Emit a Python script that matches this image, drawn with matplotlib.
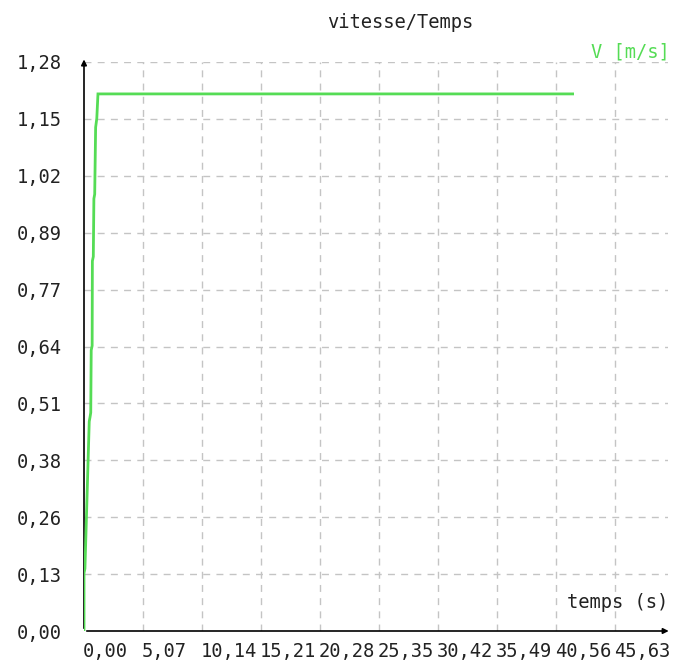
import matplotlib
matplotlib.use("Agg")
import matplotlib.pyplot as plt
from matplotlib.transforms import ScaledTranslation

# Data
time_s = [0.0, 0.0, 0.08, 0.45, 0.52, 0.58, 0.62, 0.70, 0.72, 0.80, 0.85, 0.92, 1.00, 1.05, 1.10, 1.20, 42.0]
speed_ms = [0.0, 0.13, 0.14, 0.47, 0.48, 0.49, 0.63, 0.64, 0.83, 0.84, 0.97, 0.98, 1.13, 1.14, 1.15, 1.205, 1.205]

x_ticks = [0.0, 5.07, 10.14, 15.21, 20.28, 25.35, 30.42, 35.49, 40.56, 45.63]
x_tick_labels = ["0,00", "5,07", "10,14", "15,21", "20,28", "25,35", "30,42", "35,49", "40,56", "45,63"]
y_ticks = [0.0, 0.1277, 0.2553, 0.383, 0.5106, 0.6383, 0.766, 0.8936, 1.0213, 1.149, 1.2766]
y_tick_labels = ["0,00", "0,13", "0,26", "0,38", "0,51", "0,64", "0,77", "0,89", "1,02", "1,15", "1,28"]

title = "vitesse/Temps"
x_label = "temps (s)"
y_label = "V [m/s]"

FONT = "DejaVu Sans Mono"
GREEN = "#55dc55"
GRID = "#c4c4c4"

fig = plt.figure(figsize=(6.75, 6.64), dpi=100)
ax = fig.add_axes([84/675, 33/664, (668-84)/675, 569/664])

xmax = 50.2
ymax = y_ticks[-1]
ax.set_xlim(0, xmax)
ax.set_ylim(0, ymax)

for s in ax.spines.values():
    s.set_visible(False)

# grid
for xt in x_ticks[1:]:
    ax.plot([xt, xt], [0, ymax], color=GRID, lw=1, ls=(0, (5, 4.5)), zorder=1)
for yt in y_ticks[1:]:
    ax.plot([0, xmax], [yt, yt], color=GRID, lw=1, ls=(0, (5, 4.5)), zorder=1)

ax.plot(time_s, speed_ms, color=GREEN, lw=2, zorder=3, solid_joinstyle="miter")

# axes with arrows
ax.annotate("", xy=(xmax + 0.3, 0), xytext=(0, 0),
            arrowprops=dict(arrowstyle="-|>", color="black", lw=1.2, mutation_scale=8),
            annotation_clip=False, zorder=2)
ax.annotate("", xy=(0, ymax + 0.012), xytext=(0, 0),
            arrowprops=dict(arrowstyle="-|>", color="black", lw=1.2, mutation_scale=8),
            annotation_clip=False, zorder=2)

ax.set_xticks(x_ticks)
ax.set_xticklabels(x_tick_labels, ha="left", fontsize=13.5, family=FONT, color="#222222")
ax.set_yticks(y_ticks)
ax.set_yticklabels(y_tick_labels, fontsize=13.5, family=FONT, color="#222222")
ax.tick_params(axis="x", length=0, pad=8)
ax.tick_params(axis="y", length=0, pad=16)
offset = ScaledTranslation(-1/100, 0, fig.dpi_scale_trans)
for lbl in ax.get_xticklabels():
    lbl.set_transform(lbl.get_transform() + offset)

fig.text(400/675, 1 - 22/664, title, ha="center", va="center", fontsize=13.5, family=FONT, color="#222222")
fig.text(670/675, 1 - 52/664, y_label, ha="right", va="center", fontsize=13.5, family=FONT, color=GREEN)
fig.text(668/675, 1 - 603/664, x_label, ha="right", va="center", fontsize=13.5, family=FONT, color="#222222")

fig.savefig("out.png", dpi=100)
